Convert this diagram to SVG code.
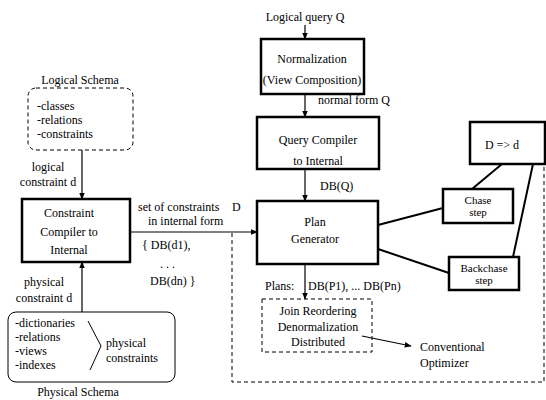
<svg xmlns="http://www.w3.org/2000/svg" width="546" height="400" viewBox="0 0 546 400">
<defs>
<marker id="ah" viewBox="0 0 10 10" refX="9" refY="5" markerWidth="7" markerHeight="7" markerUnits="userSpaceOnUse" orient="auto">
<path d="M0,1 L10,5 L0,9 Z" fill="#000"/>
</marker>
</defs>
<style>
text{font-family:"Liberation Serif","Times New Roman",serif;font-size:12px;fill:#000}
.m{text-anchor:middle}
.s{font-size:11px}
.box{fill:#fff;stroke:#000;stroke-width:2.5}
.thin{fill:none;stroke:#000;stroke-width:1}
.dash{fill:none;stroke:#000;stroke-width:1;stroke-dasharray:4,3}
.edge{fill:none;stroke:#000;stroke-width:1.2}
.thick{fill:none;stroke:#000;stroke-width:2}
</style>
<rect width="546" height="400" fill="#fff"/>

<g id="connectors">
<line class="edge" x1="305" y1="25" x2="305" y2="39" marker-end="url(#ah)"/>
<line class="edge" x1="305" y1="94" x2="305" y2="117" marker-end="url(#ah)"/>
<line class="edge" x1="305" y1="169" x2="305" y2="201" marker-end="url(#ah)"/>
<line class="edge" x1="305" y1="264" x2="305" y2="299" marker-end="url(#ah)"/>
<line class="edge" x1="130" y1="232" x2="257" y2="232" marker-end="url(#ah)"/>
<line class="edge" x1="82" y1="150" x2="82" y2="199" marker-end="url(#ah)"/>
<line class="edge" x1="82" y1="312" x2="82" y2="262" marker-end="url(#ah)"/>
<line class="edge" x1="362" y1="336" x2="411" y2="346" marker-end="url(#ah)"/>
<polyline class="dash" points="232,233 232,382 544,382 544,164"/>
<line class="thick" x1="378" y1="225" x2="443" y2="208"/>
<line class="thick" x1="378" y1="249" x2="449" y2="273"/>
<line class="thick" x1="472" y1="189" x2="502" y2="164"/>
<line class="thick" x1="513" y1="257" x2="533" y2="164"/>
</g>

<g id="query-label">
<text class="m" x="305" y="21">Logical query Q</text>
</g>

<g id="normalization">
<rect class="box" x="261" y="39" width="103" height="55"/>
<text class="m" x="312" y="63">Normalization</text>
<text class="m" x="312" y="84">(View Composition)</text>
</g>
<text x="318" y="104">normal form Q</text>

<g id="query-compiler">
<rect class="box" x="257" y="117" width="122" height="52"/>
<text class="m" x="318" y="144">Query Compiler</text>
<text class="m" x="318" y="165">to Internal</text>
</g>
<text x="320" y="190">DB(Q)</text>

<g id="plan-generator">
<rect class="box" x="257" y="201" width="121" height="63"/>
<text class="m" x="315" y="226">Plan</text>
<text class="m" x="315" y="243">Generator</text>
</g>

<text x="265" y="290">Plans:</text>
<text x="308" y="290">DB(P1), ... DB(Pn)</text>

<g id="optimizer-steps">
<rect class="dash" x="262" y="299" width="110" height="53"/>
<text class="m" x="318" y="315">Join Reordering</text>
<text class="m" x="318" y="331">Denormalization</text>
<text class="m" x="318" y="346">Distributed</text>
</g>

<g id="conventional-optimizer">
<text x="420" y="351">Conventional</text>
<text x="420" y="367">Optimizer</text>
</g>

<g id="d-implies-d">
<rect class="box" x="470" y="122" width="75" height="42"/>
<text class="m" x="502" y="149">D =&gt; d</text>
</g>

<g id="chase-step">
<rect class="box" x="443" y="189" width="70" height="34"/>
<text class="m s" x="478" y="204">Chase</text>
<text class="m s" x="478" y="216">step</text>
</g>

<g id="backchase-step">
<rect class="box" x="449" y="257" width="70" height="33"/>
<text class="m s" x="484" y="272">Backchase</text>
<text class="m s" x="484" y="284">step</text>
</g>

<g id="constraint-compiler">
<rect class="box" x="22" y="199" width="108" height="63"/>
<text class="m" x="69" y="217">Constraint</text>
<text class="m" x="69" y="236">Compiler to</text>
<text class="m" x="69" y="254">Internal</text>
</g>

<g id="constraint-set-label">
<text x="138" y="211">set of constraints</text>
<text x="232" y="211">D</text>
<text x="148" y="225">in internal form</text>
<text x="142" y="249">{ DB(d1),</text>
<text x="160" y="268">. . .</text>
<text x="150" y="285">DB(dn) }</text>
</g>

<g id="logical-schema">
<text class="m" x="80" y="84">Logical Schema</text>
<rect class="dash" x="28" y="88" width="105" height="62" rx="8"/>
<text x="37" y="110">-classes</text>
<text x="37" y="124">-relations</text>
<text x="37" y="138">-constraints</text>
</g>
<text class="m" x="48" y="171">logical</text>
<text class="m" x="48" y="186">constraint d</text>

<text class="m" x="44" y="286">physical</text>
<text class="m" x="44" y="302">constraint d</text>

<g id="physical-schema">
<rect class="thin" x="8" y="312" width="167" height="70" rx="8"/>
<text x="15" y="327">-dictionaries</text>
<text x="15" y="341">-relations</text>
<text x="15" y="355">-views</text>
<text x="15" y="369">-indexes</text>
<polyline class="thin" points="88,321 101,346 90,370"/>
<text x="106" y="347">physical</text>
<text x="106" y="362">constraints</text>
<text class="m" x="78" y="396">Physical Schema</text>
</g>
</svg>
